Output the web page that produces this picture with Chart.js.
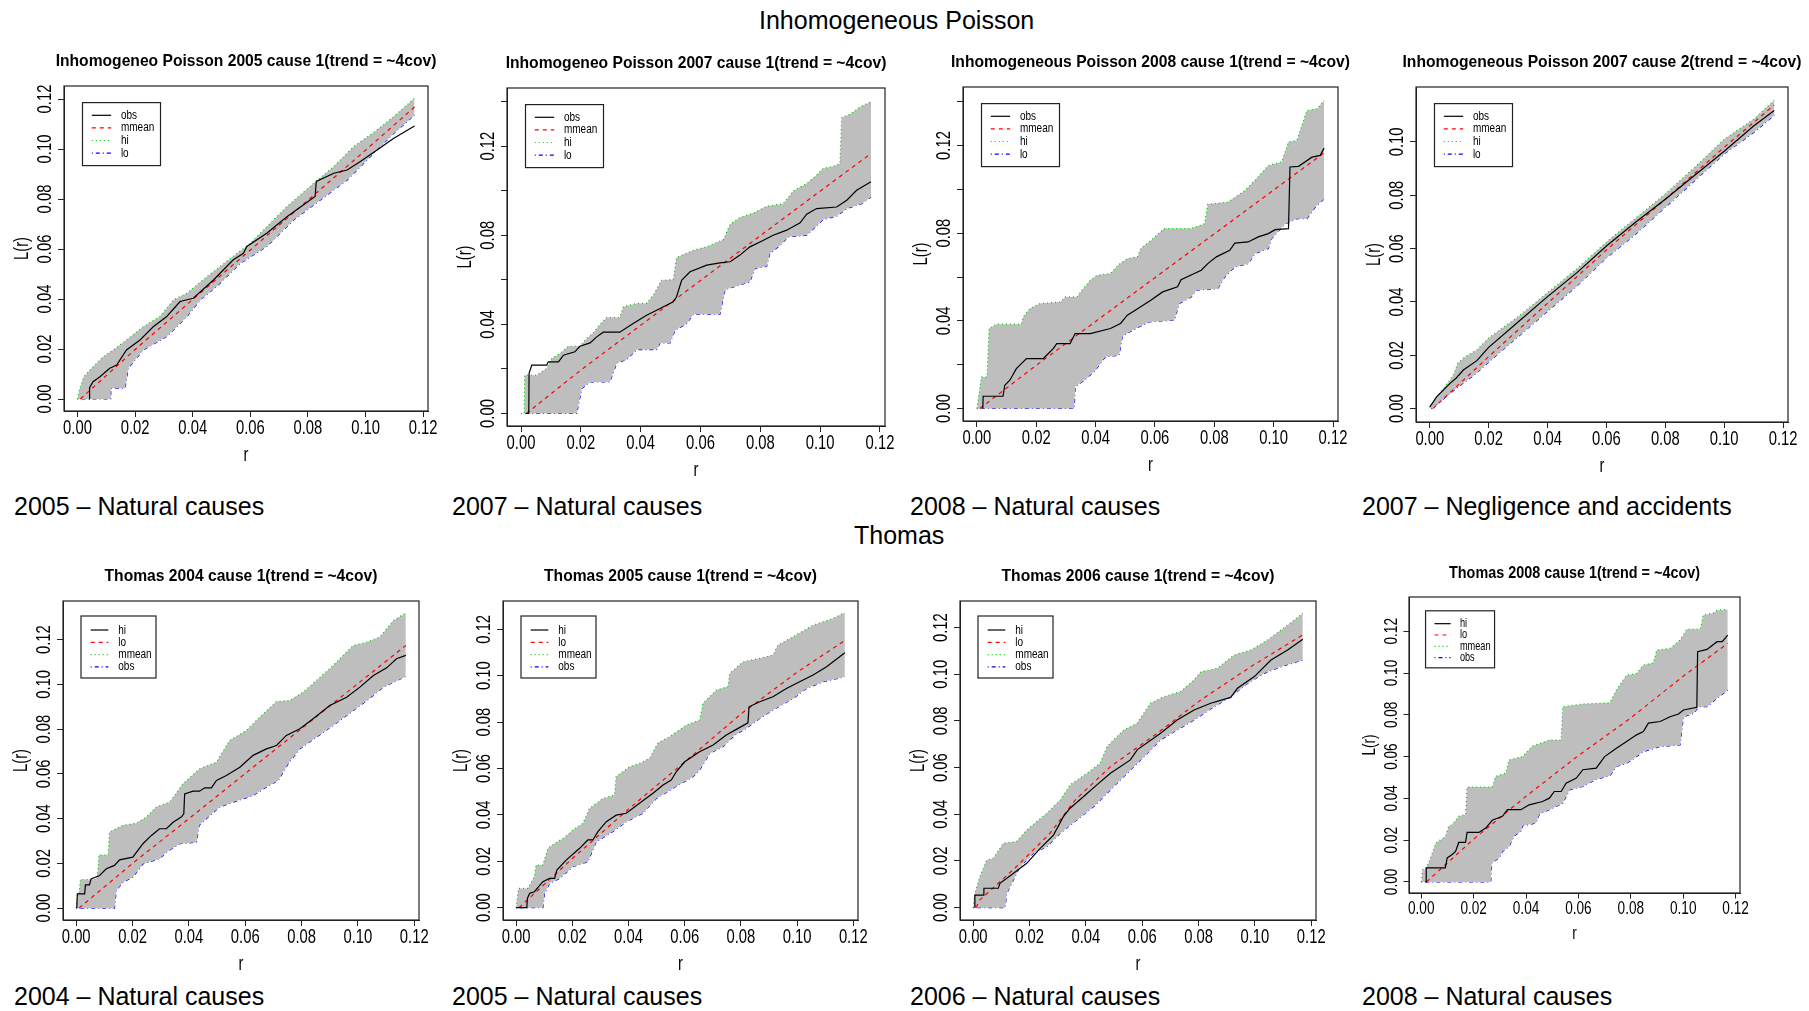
<!DOCTYPE html>
<html><head><meta charset="utf-8">
<script src="https://cdn.jsdelivr.net/npm/chart.js@4.4.1/dist/chart.umd.min.js"></script>
<style>
html,body{margin:0;padding:0;background:#fff;}
#page{position:relative;width:1809px;height:1011px;overflow:hidden;font-family:"Liberation Sans",Arial,sans-serif;}
canvas{position:absolute;}
.lbl{position:absolute;font-size:25px;line-height:30px;color:#000;white-space:nowrap;}
</style></head><body><div id="page">
<div class="lbl" style="left:759px;top:5px">Inhomogeneous Poisson</div>
<div class="lbl" style="left:14px;top:491px">2005 – Natural causes</div>
<div class="lbl" style="left:452px;top:491px">2007 – Natural causes</div>
<div class="lbl" style="left:910px;top:491px">2008 – Natural causes</div>
<div class="lbl" style="left:1362px;top:491px">2007 – Negligence and accidents</div>
<div class="lbl" style="left:854px;top:520px">Thomas</div>
<div class="lbl" style="left:14px;top:981px">2004 – Natural causes</div>
<div class="lbl" style="left:452px;top:981px">2005 – Natural causes</div>
<div class="lbl" style="left:910px;top:981px">2006 – Natural causes</div>
<div class="lbl" style="left:1362px;top:981px">2008 – Natural causes</div>
</div>
<script>
// ---------- DATA (r, L(r)) ----------
const TITLES = [
  "Inhomogeneo Poisson 2005 cause 1(trend = ~4cov)",
  "Inhomogeneo Poisson 2007 cause 1(trend = ~4cov)",
  "Inhomogeneous Poisson 2008 cause 1(trend = ~4cov)",
  "Inhomogeneous Poisson 2007 cause 2(trend = ~4cov)",
  "Thomas 2004 cause 1(trend = ~4cov)",
  "Thomas 2005 cause 1(trend = ~4cov)",
  "Thomas 2006 cause 1(trend = ~4cov)",
  "Thomas 2008 cause 1(trend = ~4cov)"
];
const LEGEND_ROW1 = ["obs", "mmean", "hi", "lo"];
const LEGEND_ROW2 = ["hi", "lo", "mmean", "obs"];
const X_TICKS = [0, 0.02, 0.04, 0.06, 0.08, 0.10, 0.12];
const Y_TICKS_A = [0, 0.02, 0.04, 0.06, 0.08, 0.10, 0.12];
const Y_TICKS_B = [0, 0.02, 0.04, 0.06, 0.08, 0.10, 0.12, 0.14];
const Y_LABELS_B = [0, 0.04, 0.08, 0.12];
const Y_TICKS_C = [0, 0.02, 0.04, 0.06, 0.08, 0.10];
const X_LIMITS = [-0.00468, 0.12168];
const Y_LIMITS = [[-0.0048,0.1252],[-0.0056,0.1461],[-0.0057,0.1467],[-0.005,0.1206],[-0.0053,0.1373],[-0.0053,0.1322],[-0.0053,0.1314],[-0.0053,0.1364]];

// Panel 1
const obs1 = [[0.004,0],[0.0042,0.0045],[0.0054,0.0069],[0.0078,0.0089],[0.0112,0.0123],[0.0136,0.0136],[0.017,0.0196],[0.0217,0.0236],[0.0263,0.0289],[0.031,0.033],[0.0356,0.039],[0.0402,0.0403],[0.0472,0.0476],[0.054,0.0556],[0.0576,0.0583],[0.0588,0.061],[0.0657,0.0663],[0.0727,0.0729],[0.0825,0.081],[0.0829,0.087],[0.089,0.0903],[0.0936,0.0916],[0.0982,0.095],[0.104,0.0996],[0.1098,0.1043],[0.117,0.1092]];
const mm1 = [[0.001,0],[0.02,0.0198],[0.04,0.0398],[0.06,0.0596],[0.08,0.0795],[0.1,0.0995],[0.117,0.1168]];
const hi1 = [[0,0],[0.0008,0.0043],[0.0022,0.0089],[0.0049,0.0123],[0.0089,0.0169],[0.0124,0.0196],[0.017,0.0236],[0.0228,0.0289],[0.0286,0.033],[0.0333,0.0396],[0.038,0.0423],[0.0449,0.0489],[0.054,0.057],[0.06,0.0623],[0.0657,0.0689],[0.0727,0.077],[0.082,0.0863],[0.089,0.093],[0.0959,0.101],[0.1028,0.1066],[0.1098,0.113],[0.117,0.1203]];
const lo1 = [[0,0],[0.0115,0],[0.0116,0.0043],[0.0165,0.0043],[0.0176,0.0123],[0.0228,0.0196],[0.031,0.025],[0.038,0.033],[0.0426,0.0396],[0.0483,0.045],[0.0565,0.0543],[0.0657,0.061],[0.075,0.0716],[0.0843,0.0796],[0.0936,0.0876],[0.1005,0.0956],[0.1086,0.105],[0.117,0.1136]];
// Panel 2
const obs2 = [[0.0016,0],[0.0026,0],[0.0027,0.018],[0.0036,0.0217],[0.0086,0.0217],[0.0091,0.0232],[0.0125,0.0232],[0.0142,0.0262],[0.018,0.0277],[0.0197,0.0302],[0.0231,0.0317],[0.0253,0.0344],[0.0275,0.0365],[0.033,0.0365],[0.0375,0.0404],[0.042,0.0441],[0.0465,0.0471],[0.0509,0.0501],[0.052,0.0524],[0.0537,0.0598],[0.0565,0.0636],[0.0621,0.0666],[0.0665,0.0676],[0.0699,0.0681],[0.0732,0.0711],[0.0765,0.0748],[0.0799,0.077],[0.0843,0.08],[0.0888,0.0823],[0.0933,0.0856],[0.0955,0.0895],[0.0988,0.092],[0.1055,0.0927],[0.1089,0.0957],[0.1122,0.1002],[0.117,0.104]];
const mm2 = [[0.0018,0],[0.02,0.0195],[0.04,0.0396],[0.06,0.0597],[0.08,0.0798],[0.1,0.0998],[0.117,0.1167]];
const hi2 = [[0,0],[0.0011,0],[0.0012,0.0172],[0.0052,0.0172],[0.0086,0.0202],[0.0103,0.0247],[0.013,0.0269],[0.0158,0.0302],[0.0197,0.0302],[0.022,0.0337],[0.0242,0.0362],[0.0259,0.0392],[0.0286,0.0431],[0.033,0.0431],[0.0342,0.0479],[0.0387,0.0494],[0.042,0.0494],[0.0442,0.0531],[0.047,0.0598],[0.0509,0.0601],[0.052,0.07],[0.0576,0.0733],[0.0621,0.0748],[0.0677,0.0781],[0.0699,0.085],[0.0732,0.088],[0.0777,0.09],[0.0821,0.093],[0.0877,0.0942],[0.091,0.0999],[0.0955,0.1032],[0.0988,0.107],[0.101,0.11],[0.1044,0.111],[0.1066,0.1122],[0.1072,0.1328],[0.11,0.1343],[0.1133,0.1376],[0.117,0.1399]];
const lo2 = [[0,0],[0.0186,0],[0.0203,0.0112],[0.0231,0.0142],[0.0297,0.0142],[0.032,0.0227],[0.0353,0.0242],[0.0387,0.0287],[0.0453,0.0287],[0.0465,0.0317],[0.0498,0.0317],[0.0515,0.0374],[0.0554,0.0404],[0.0576,0.0446],[0.0665,0.0446],[0.0682,0.0556],[0.071,0.0568],[0.0765,0.0591],[0.0782,0.0651],[0.0821,0.0661],[0.0832,0.0718],[0.0866,0.0755],[0.0894,0.0793],[0.0955,0.08],[0.101,0.0871],[0.1055,0.0886],[0.1089,0.092],[0.1139,0.0942],[0.117,0.0972]];
// Panel 3
const obs3 = [[0.002,0],[0.0021,0.0056],[0.0088,0.0056],[0.0094,0.0106],[0.0111,0.0129],[0.0133,0.0182],[0.0167,0.0228],[0.0224,0.0228],[0.0258,0.0274],[0.0269,0.0296],[0.0314,0.0296],[0.0331,0.0342],[0.0382,0.0342],[0.045,0.0365],[0.0484,0.0388],[0.0507,0.0426],[0.0552,0.0464],[0.0586,0.0494],[0.0626,0.0532],[0.0676,0.0555],[0.0688,0.0588],[0.0756,0.0631],[0.0778,0.0661],[0.0807,0.0692],[0.0852,0.0722],[0.0869,0.0755],[0.0914,0.076],[0.0948,0.0783],[0.0982,0.0798],[0.1005,0.0816],[0.105,0.0821],[0.1055,0.1102],[0.1084,0.1105],[0.1129,0.1147],[0.1157,0.1155],[0.117,0.1188]];
const mm3 = [[0.001,0],[0.02,0.0197],[0.04,0.0397],[0.06,0.0597],[0.08,0.0797],[0.1,0.0997],[0.117,0.1167]];
const hi3 = [[0,0],[0.0015,0.0144],[0.0034,0.0144],[0.0041,0.0365],[0.0066,0.0385],[0.015,0.0385],[0.0156,0.0418],[0.0179,0.0456],[0.0213,0.0479],[0.0281,0.0486],[0.0298,0.0509],[0.0337,0.0509],[0.0354,0.054],[0.0382,0.0585],[0.0405,0.0608],[0.045,0.0616],[0.0479,0.0658],[0.0507,0.0684],[0.0541,0.0692],[0.0552,0.073],[0.0586,0.0767],[0.0631,0.0821],[0.0722,0.0821],[0.0767,0.0843],[0.0778,0.0932],[0.0846,0.0942],[0.0903,0.0995],[0.0937,0.1041],[0.0982,0.1109],[0.1027,0.1125],[0.105,0.1216],[0.1078,0.1223],[0.1112,0.136],[0.1146,0.1368],[0.117,0.1406]];
const lo3 = [[0,0],[0.0328,0],[0.0331,0.0099],[0.0365,0.0132],[0.0399,0.0175],[0.0433,0.0236],[0.0479,0.0243],[0.049,0.033],[0.0529,0.036],[0.058,0.0395],[0.0665,0.0403],[0.0682,0.0479],[0.0722,0.0509],[0.0739,0.054],[0.0812,0.0547],[0.0835,0.06],[0.0869,0.0646],[0.0914,0.0661],[0.0937,0.0707],[0.0982,0.073],[0.0993,0.0775],[0.1038,0.0843],[0.1078,0.0866],[0.1112,0.0866],[0.114,0.0919],[0.117,0.0957]];
// Panel 4
const obs4 = [[0,0.0006],[0.0023,0.0044],[0.0068,0.0094],[0.009,0.0115],[0.0114,0.0145],[0.016,0.018],[0.02,0.023],[0.03,0.0325],[0.04,0.042],[0.05,0.051],[0.06,0.061],[0.07,0.07],[0.08,0.0785],[0.09,0.0875],[0.1,0.0965],[0.11,0.106],[0.117,0.1118]];
const mm4 = [[0.001,0],[0.02,0.0195],[0.04,0.0395],[0.06,0.0595],[0.08,0.0785],[0.1,0.098],[0.117,0.1138]];
const hi4 = [[0,0.0005],[0.002,0.004],[0.005,0.008],[0.008,0.0125],[0.0095,0.017],[0.012,0.0195],[0.016,0.022],[0.02,0.0265],[0.03,0.0345],[0.04,0.0435],[0.05,0.0525],[0.06,0.0625],[0.07,0.0715],[0.08,0.0805],[0.09,0.0905],[0.1,0.101],[0.11,0.1085],[0.117,0.1156]];
const lo4 = [[0.0005,0],[0.005,0.004],[0.01,0.0085],[0.015,0.0125],[0.02,0.0175],[0.03,0.027],[0.04,0.0365],[0.05,0.046],[0.06,0.0565],[0.07,0.0655],[0.08,0.0755],[0.09,0.0855],[0.1,0.0955],[0.11,0.1035],[0.117,0.110]];
// Panel 5
const obs5 = [[0.0002,0],[0.0004,0.0064],[0.003,0.0064],[0.0033,0.0104],[0.0047,0.0104],[0.0053,0.0131],[0.0083,0.0146],[0.0107,0.0176],[0.0136,0.0191],[0.0154,0.0216],[0.0201,0.0228],[0.0237,0.0288],[0.0267,0.0325],[0.0296,0.0355],[0.032,0.0355],[0.0344,0.0384],[0.0373,0.0407],[0.0382,0.0422],[0.0385,0.0511],[0.0415,0.0523],[0.0438,0.0523],[0.0456,0.0538],[0.048,0.0538],[0.0498,0.0571],[0.0533,0.0593],[0.0581,0.063],[0.0628,0.0683],[0.0675,0.0712],[0.0711,0.0727],[0.0746,0.0772],[0.0794,0.0802],[0.0841,0.0847],[0.09,0.0906],[0.096,0.0943],[0.1007,0.0988],[0.1055,0.104],[0.1102,0.1074],[0.1137,0.1115],[0.117,0.113]];
const mm5 = [[0.001,0],[0.02,0.02],[0.04,0.04],[0.06,0.0602],[0.08,0.0803],[0.1,0.1004],[0.117,0.1174]];
const hi5 = [[0,0],[0.0006,0.0064],[0.001,0.0064],[0.0015,0.0128],[0.0071,0.0128],[0.0077,0.0168],[0.0081,0.0238],[0.0113,0.0238],[0.0118,0.034],[0.0166,0.037],[0.0213,0.038],[0.0249,0.0407],[0.0284,0.0452],[0.0332,0.0474],[0.0379,0.0556],[0.0438,0.0623],[0.0498,0.0653],[0.0545,0.075],[0.0604,0.0794],[0.0652,0.0854],[0.0711,0.0924],[0.0758,0.0928],[0.0806,0.0966],[0.0853,0.1018],[0.0912,0.1085],[0.0983,0.1174],[0.1031,0.1189],[0.1078,0.1212],[0.1126,0.1286],[0.117,0.1319]];
const lo5 = [[0,0],[0.0136,0],[0.0142,0.0079],[0.0166,0.0116],[0.0201,0.0139],[0.0237,0.0198],[0.0296,0.0221],[0.032,0.025],[0.0367,0.0288],[0.0427,0.0295],[0.0436,0.037],[0.0474,0.0414],[0.0509,0.0452],[0.0557,0.0474],[0.0628,0.0504],[0.0675,0.0541],[0.0717,0.0571],[0.0752,0.0645],[0.0794,0.0712],[0.0853,0.0765],[0.0912,0.0817],[0.096,0.0861],[0.1031,0.0928],[0.109,0.0988],[0.117,0.1036]];
// Panel 6
const obs6 = [[0,0],[0.0038,0],[0.004,0.004],[0.0048,0.0062],[0.0065,0.0069],[0.0095,0.0112],[0.0119,0.0126],[0.0137,0.0126],[0.0145,0.0162],[0.0178,0.0205],[0.0226,0.0256],[0.0255,0.0292],[0.0273,0.0292],[0.0291,0.0328],[0.0321,0.0371],[0.0356,0.0399],[0.0392,0.0407],[0.0439,0.045],[0.0487,0.0493],[0.0523,0.0529],[0.0552,0.055],[0.057,0.0586],[0.06,0.0629],[0.0653,0.0672],[0.0701,0.0701],[0.0748,0.0744],[0.079,0.0773],[0.0825,0.0797],[0.0829,0.0866],[0.0867,0.0888],[0.0914,0.0909],[0.0962,0.0945],[0.1009,0.0974],[0.1057,0.1003],[0.1105,0.1039],[0.117,0.1099]];
const mm6 = [[0.001,0],[0.02,0.0212],[0.04,0.0425],[0.06,0.0628],[0.08,0.0835],[0.1,0.1015],[0.117,0.1152]];
const hi6 = [[0,0],[0.0008,0.0083],[0.0042,0.0083],[0.0065,0.0134],[0.0071,0.0184],[0.0095,0.0184],[0.0113,0.0256],[0.0137,0.0277],[0.0172,0.0303],[0.0202,0.0335],[0.0238,0.0364],[0.0261,0.0428],[0.0309,0.0471],[0.035,0.0486],[0.0356,0.0565],[0.0404,0.0608],[0.0439,0.0622],[0.0475,0.0644],[0.0505,0.0711],[0.0546,0.0737],[0.0606,0.0787],[0.0653,0.0809],[0.0665,0.0881],[0.0713,0.0938],[0.0754,0.0953],[0.076,0.101],[0.0808,0.106],[0.0867,0.1075],[0.0914,0.1089],[0.0932,0.1132],[0.0986,0.1168],[0.1057,0.1218],[0.1128,0.1247],[0.117,0.1272]];
const lo6 = [[0,0],[0.0095,0],[0.0101,0.0062],[0.0119,0.0105],[0.0154,0.0126],[0.0202,0.0177],[0.0255,0.0198],[0.0285,0.0284],[0.0344,0.0328],[0.0392,0.0371],[0.0451,0.0407],[0.0499,0.0471],[0.0558,0.0514],[0.063,0.0565],[0.0653,0.0593],[0.0689,0.0665],[0.0736,0.0694],[0.0778,0.0744],[0.0819,0.0773],[0.0867,0.0816],[0.0914,0.0852],[0.0986,0.0902],[0.1033,0.0945],[0.1093,0.0974],[0.117,0.0996]];
// Panel 7
const obs7 = [[0.0006,0],[0.0006,0.0054],[0.0036,0.0054],[0.0038,0.0083],[0.0089,0.0083],[0.0095,0.0104],[0.0143,0.0147],[0.019,0.019],[0.0238,0.0254],[0.0285,0.0311],[0.032,0.039],[0.0344,0.0426],[0.0392,0.0476],[0.0439,0.0526],[0.0487,0.0576],[0.0558,0.0633],[0.0582,0.0676],[0.0665,0.0747],[0.0724,0.0804],[0.0784,0.0847],[0.0843,0.0876],[0.0914,0.0901],[0.0938,0.094],[0.0998,0.099],[0.1057,0.1061],[0.1116,0.1104],[0.117,0.115]];
const mm7 = [[0.001,0],[0.0024,0.0033],[0.0154,0.0176],[0.0273,0.0319],[0.0362,0.0461],[0.0487,0.0604],[0.0653,0.0747],[0.0808,0.089],[0.0986,0.1033],[0.114,0.1147],[0.117,0.1169]];
const hi7 = [[0,0],[0.0006,0.0061],[0.0024,0.0133],[0.0048,0.0204],[0.0071,0.0211],[0.0107,0.0276],[0.0154,0.0283],[0.019,0.0333],[0.0261,0.0404],[0.0309,0.0461],[0.0344,0.0526],[0.0404,0.0576],[0.0451,0.0619],[0.0475,0.069],[0.0534,0.0761],[0.0582,0.079],[0.0629,0.0876],[0.0677,0.0904],[0.0736,0.0926],[0.0784,0.0976],[0.0808,0.1011],[0.0867,0.1026],[0.0926,0.1083],[0.0986,0.1104],[0.1045,0.1147],[0.1093,0.119],[0.114,0.1233],[0.117,0.1261]];
const lo7 = [[0,0],[0.0113,0],[0.0119,0.0061],[0.0131,0.009],[0.0166,0.0176],[0.0214,0.0233],[0.0261,0.0261],[0.0309,0.0319],[0.0368,0.0376],[0.0428,0.0433],[0.0499,0.0519],[0.0558,0.059],[0.0618,0.0661],[0.0665,0.0719],[0.0724,0.0761],[0.0784,0.0804],[0.0855,0.0861],[0.0914,0.0904],[0.0974,0.0961],[0.1033,0.1004],[0.1093,0.1033],[0.117,0.1061]];
// Panel 8
const obs8 = [[0.0015,0],[0.0019,0],[0.0019,0.0067],[0.0092,0.0067],[0.0099,0.0115],[0.0118,0.0131],[0.0131,0.0146],[0.0143,0.0189],[0.0169,0.0189],[0.0175,0.0237],[0.022,0.0237],[0.0246,0.0258],[0.0271,0.0295],[0.031,0.0314],[0.0329,0.0346],[0.038,0.0346],[0.0412,0.0369],[0.0463,0.0385],[0.0489,0.0401],[0.0508,0.0433],[0.0534,0.0433],[0.0553,0.0473],[0.0592,0.0497],[0.0617,0.0537],[0.0668,0.0545],[0.07,0.06],[0.0745,0.064],[0.0784,0.0672],[0.0822,0.0704],[0.0848,0.072],[0.0867,0.076],[0.0912,0.0768],[0.095,0.0791],[0.0982,0.0804],[0.1001,0.0823],[0.1052,0.0836],[0.1055,0.1102],[0.1091,0.1113],[0.1129,0.115],[0.1149,0.115],[0.117,0.1182]];
const mm8 = [[0.002,0],[0.02,0.0205],[0.04,0.041],[0.06,0.0605],[0.08,0.0785],[0.1,0.0985],[0.117,0.1142]];
const hi8 = [[0,0],[0.0005,0.0059],[0.0015,0.0059],[0.0028,0.0091],[0.0056,0.0186],[0.0092,0.0218],[0.0105,0.0266],[0.0118,0.0274],[0.0143,0.0314],[0.0169,0.0322],[0.0175,0.0454],[0.0271,0.0454],[0.0284,0.0505],[0.0323,0.0521],[0.0335,0.0584],[0.0387,0.06],[0.0425,0.0651],[0.0463,0.0667],[0.0489,0.068],[0.0534,0.068],[0.054,0.0839],[0.0617,0.0852],[0.072,0.0858],[0.0745,0.0919],[0.0784,0.099],[0.0822,0.0998],[0.0848,0.1038],[0.0886,0.1049],[0.0899,0.111],[0.095,0.1118],[0.0988,0.1158],[0.1014,0.121],[0.1065,0.121],[0.1076,0.1277],[0.1117,0.1288],[0.1129,0.1301],[0.117,0.1304]];
const lo8 = [[0,0],[0.0265,0],[0.0269,0.0091],[0.0297,0.0115],[0.031,0.0146],[0.0335,0.017],[0.0355,0.0221],[0.038,0.0242],[0.0387,0.0269],[0.0438,0.0282],[0.0451,0.0325],[0.0489,0.0346],[0.054,0.0377],[0.0566,0.0441],[0.0617,0.0457],[0.0668,0.0492],[0.072,0.0508],[0.0745,0.0553],[0.0784,0.0568],[0.0822,0.06],[0.0848,0.0624],[0.0912,0.0648],[0.0988,0.0656],[0.1001,0.0791],[0.104,0.0807],[0.1059,0.0839],[0.1091,0.0839],[0.1129,0.0879],[0.117,0.0919]];

// ---------- LAYOUT (plot box in page px: left, top, right, bottom) ----------
const BOXES = [[64,86,428,411],[507,88,885,426],[963,87,1338,421],[1416,87,1788,422],[63,601,419,920],[503,601,858,920],[960,601,1316,920],[1409,597,1740,893]];
const FONT_SCALE = [1,1,1,1,1,1,1,0.92];
const FAM = '"Liberation Sans", Arial, sans-serif';

const PANELS = [
  {obs:obs1, mm:mm1, hi:hi1, lo:lo1, yt:Y_TICKS_A, yl:Y_TICKS_A, leg:LEGEND_ROW1, row:1},
  {obs:obs2, mm:mm2, hi:hi2, lo:lo2, yt:Y_TICKS_B, yl:Y_LABELS_B, leg:LEGEND_ROW1, row:1},
  {obs:obs3, mm:mm3, hi:hi3, lo:lo3, yt:Y_TICKS_B, yl:Y_LABELS_B, leg:LEGEND_ROW1, row:1},
  {obs:obs4, mm:mm4, hi:hi4, lo:lo4, yt:Y_TICKS_C, yl:Y_TICKS_C, leg:LEGEND_ROW1, row:1},
  {obs:obs5, mm:mm5, hi:hi5, lo:lo5, yt:Y_TICKS_A, yl:Y_TICKS_A, leg:LEGEND_ROW2, row:2},
  {obs:obs6, mm:mm6, hi:hi6, lo:lo6, yt:Y_TICKS_A, yl:Y_TICKS_A, leg:LEGEND_ROW2, row:2},
  {obs:obs7, mm:mm7, hi:hi7, lo:lo7, yt:Y_TICKS_A, yl:Y_TICKS_A, leg:LEGEND_ROW2, row:2},
  {obs:obs8, mm:mm8, hi:hi8, lo:lo8, yt:Y_TICKS_A, yl:Y_TICKS_A, leg:LEGEND_ROW2, row:2}
];

function drawText(ctx, s, x, y, font, sx, rot, align) {
  ctx.save();
  ctx.translate(x, y);
  if (rot) ctx.rotate(-Math.PI / 2);
  ctx.scale(sx, 1);
  ctx.font = font;
  ctx.textAlign = align;
  ctx.textBaseline = 'middle';
  ctx.fillText(s, 0, 0);
  ctx.restore();
}

const rPanel = {
  id: 'rpanel',
  afterDraw(chart, args, o) {
    const ctx = chart.ctx, a = chart.chartArea, xs = chart.scales.x, ys = chart.scales.y, s = o.s;
    ctx.save();
    ctx.setLineDash([]);
    ctx.strokeStyle = '#222';
    ctx.lineWidth = 1.2;
    ctx.strokeRect(a.left, a.top, a.right - a.left, a.bottom - a.top);
    ctx.fillStyle = '#000';
    const tf = (20 * s) + 'px ' + FAM;
    o.xl.forEach(v => drawText(ctx, v.toFixed(2), xs.getPixelForValue(v), a.bottom + 17.3 * s, tf, 0.74, false, 'center'));
    o.yl.forEach(v => drawText(ctx, v.toFixed(2), a.left - 18.7 * s, ys.getPixelForValue(v), tf, 0.74, true, 'center'));
    drawText(ctx, 'r', (a.left + a.right) / 2, a.bottom + 44 * s, tf, 0.74, false, 'center');
    drawText(ctx, 'L(r)', a.left - 42 * s, (a.top + a.bottom) / 2, tf, 0.74, true, 'center');
    drawText(ctx, o.title, (a.left + a.right) / 2, a.top - 25 * s, 'bold ' + (17 * s) + 'px ' + FAM, 0.92, false, 'center');
    // legend
    const L = o.row === 1 ? {dx:18.5, dy:16.6, w:78, h:63, y0:12.7, dyr:12.6, l0:9.3, l1:28.7, tx:38.4}
                          : {dx:18, dy:15, w:75, h:62, y0:14, dyr:12.3, l0:9.7, l1:27.3, tx:37.3};
    const lx = a.left + L.dx * s, ly = a.top + L.dy * s;
    ctx.fillStyle = '#fff';
    ctx.fillRect(lx, ly, L.w * s, L.h * s);
    ctx.strokeStyle = '#222';
    ctx.lineWidth = 1.2;
    ctx.strokeRect(lx, ly, L.w * s, L.h * s);
    chart.data.datasets.forEach((ds, i) => {
      const yy = ly + (L.y0 + L.dyr * i) * s;
      ctx.beginPath();
      ctx.strokeStyle = ds.borderColor;
      ctx.lineWidth = ds.borderWidth;
      ctx.setLineDash(ds.borderDash || []);
      ctx.moveTo(lx + L.l0 * s, yy);
      ctx.lineTo(lx + L.l1 * s, yy);
      ctx.stroke();
      ctx.setLineDash([]);
      ctx.fillStyle = '#000';
      drawText(ctx, o.leg[i], lx + L.tx * s, yy, (13 * s) + 'px ' + FAM, 0.77, false, 'left');
    });
    ctx.restore();
  }
};

const pts = arr => arr.map(p => ({x: p[0], y: p[1]}));
const page = document.getElementById('page');
const PADL = 70, PADT = 45, PADR = 20, PADB = 60;

PANELS.forEach((p, i) => {
  const [bl, bt, br, bb] = BOXES[i];
  const s = FONT_SCALE[i];
  const tick = 6 * s;
  const cl = bl - PADL, ct = bt - PADT, cw = (br - bl) + PADL + PADR, ch = (bb - bt) + PADT + PADB;
  const cv = document.createElement('canvas');
  cv.width = cw; cv.height = ch;
  cv.style.left = cl + 'px'; cv.style.top = ct + 'px';
  cv.style.width = cw + 'px'; cv.style.height = ch + 'px';
  page.appendChild(cv);
  const axisCommon = {
    type: 'linear',
    border: {display: true, color: '#222', width: 1},
    grid: {display: true, drawOnChartArea: false, drawTicks: true, tickLength: tick, color: '#222', lineWidth: 1},
    ticks: {display: false}
  };
  new Chart(cv, {
    type: 'line',
    data: {
      datasets: [
        {label: 'obs', data: pts(p.obs), borderColor: '#000000', borderWidth: 1.2, borderDash: [], fill: false},
        {label: 'mmean', data: pts(p.mm), borderColor: '#ff0000', borderWidth: 1.2, borderDash: [4, 4], fill: false},
        {label: 'hi', data: pts(p.hi), borderColor: '#00cd00', borderWidth: 1.2, borderDash: [1, 3], fill: '+1', backgroundColor: '#bebebe'},
        {label: 'lo', data: pts(p.lo), borderColor: '#0000ff', borderWidth: 1.2, borderDash: [1, 3, 4, 3], fill: false}
      ]
    },
    options: {
      responsive: false,
      animation: false,
      devicePixelRatio: 1,
      layout: {padding: {left: PADL - tick, top: PADT, right: PADR, bottom: PADB - tick}},
      elements: {point: {radius: 0}, line: {tension: 0}},
      scales: {
        x: Object.assign({}, axisCommon, {min: X_LIMITS[0], max: X_LIMITS[1],
             afterBuildTicks: sc => { sc.ticks = X_TICKS.map(v => ({value: v})); }}),
        y: Object.assign({}, axisCommon, {min: Y_LIMITS[i][0], max: Y_LIMITS[i][1],
             afterBuildTicks: sc => { sc.ticks = p.yt.map(v => ({value: v})); }})
      },
      plugins: {
        legend: {display: false},
        tooltip: {enabled: false},
        title: {display: false},
        rpanel: {s: s, xl: X_TICKS, yl: p.yl, title: TITLES[i], leg: p.leg, row: p.row}
      }
    },
    plugins: [rPanel]
  });
});
</script></body></html>
